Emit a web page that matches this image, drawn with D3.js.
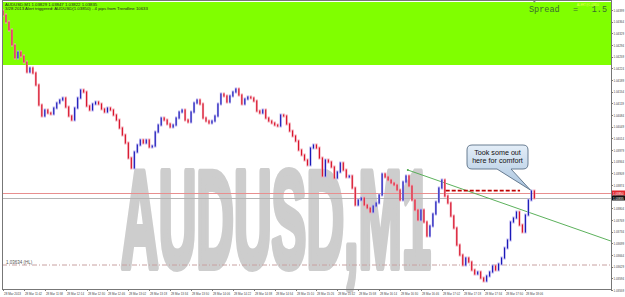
<!DOCTYPE html>
<html>
<head>
<meta charset="utf-8">
<script src="https://cdn.jsdelivr.net/npm/d3@7"></script>
<style>
  html, body { margin: 0; padding: 0; background: #fff; }
  svg { display: block; }
</style>
</head>
<body>
<div id="chart"></div>
<script>
"use strict";

// === DATA (AUDUSD M1, 28 Mar 2013, closes) ===
const closes = [
  1.04384, 1.04363, 1.04339, 1.04294, 1.04255, 1.04273, 1.04261, 1.04243, 1.04213, 1.04225,
  1.04210, 1.04174, 1.04114, 1.04081, 1.04099, 1.04090, 1.04087, 1.04105, 1.04120, 1.04129,
  1.04135, 1.04108, 1.04081, 1.04069, 1.04105, 1.04135, 1.04159, 1.04153, 1.04111, 1.04099,
  1.04117, 1.04123, 1.04117, 1.04102, 1.04093, 1.04105, 1.04099, 1.04084, 1.04069, 1.04045,
  1.04024, 1.04000, 1.03955, 1.03925, 1.03973, 1.03994, 1.04009, 1.04000, 1.04009, 1.03988,
  1.03991, 1.04033, 1.04054, 1.04075, 1.04069, 1.04057, 1.04048, 1.04054, 1.04075, 1.04093,
  1.04099, 1.04069, 1.04063, 1.04093, 1.04120, 1.04129, 1.04117, 1.04075, 1.04066, 1.04060,
  1.04066, 1.04081, 1.04117, 1.04147, 1.04141, 1.04123, 1.04141, 1.04153, 1.04162, 1.04144,
  1.04117, 1.04132, 1.04138, 1.04135, 1.04126, 1.04096, 1.04090, 1.04099, 1.04075, 1.04066,
  1.04060, 1.04054, 1.04051, 1.04084, 1.04081, 1.04057, 1.04036, 1.04021, 1.04006, 1.03979,
  1.03964, 1.03949, 1.03934, 1.03985, 1.03994, 1.03985, 1.03955, 1.03901, 1.03949, 1.03943,
  1.03928, 1.03895, 1.03913, 1.03940, 1.03919, 1.03898, 1.03901, 1.03865, 1.03814, 1.03829,
  1.03835, 1.03814, 1.03805, 1.03793, 1.03811, 1.03820, 1.03844, 1.03907, 1.03898, 1.03889,
  1.03880, 1.03874, 1.03859, 1.03829, 1.03883, 1.03901, 1.03871, 1.03829, 1.03799, 1.03769,
  1.03799, 1.03763, 1.03721, 1.03751, 1.03787, 1.03823, 1.03865, 1.03889, 1.03841, 1.03820,
  1.03781, 1.03745, 1.03694, 1.03664, 1.03634, 1.03655, 1.03643, 1.03619, 1.03607, 1.03613,
  1.03595, 1.03586, 1.03601, 1.03613, 1.03631, 1.03619, 1.03637, 1.03655, 1.03685, 1.03709,
  1.03763, 1.03775, 1.03793, 1.03754, 1.03733, 1.03784, 1.03829, 1.03856, 1.03835
];

const priceTicks = [
  1.04399, 1.04364, 1.04329, 1.04294, 1.04259, 1.04224, 1.04189, 1.04154, 1.04119, 1.04084,
  1.04049, 1.04014, 1.03979, 1.03944, 1.03909, 1.03874, 1.03839, 1.03804, 1.03769, 1.03734,
  1.03699, 1.03664, 1.03629, 1.03594, 1.03559
];

const timeLabels = [
  "28 Mar 2013", "28 Mar 11:42", "28 Mar 11:58", "28 Mar 12:14", "28 Mar 12:30", "28 Mar 12:46",
  "28 Mar 13:02", "28 Mar 13:18", "28 Mar 13:34", "28 Mar 13:50", "28 Mar 14:06", "28 Mar 14:22",
  "28 Mar 14:38", "28 Mar 14:54", "28 Mar 15:10", "28 Mar 15:26", "28 Mar 15:42", "28 Mar 15:58",
  "28 Mar 16:14", "28 Mar 16:30", "28 Mar 16:46", "28 Mar 17:02", "28 Mar 17:18", "28 Mar 17:34",
  "28 Mar 17:50", "28 Mar 18:06"
];
const barsPerLabel = 7;

const askPrice = 1.03850;
const bidPrice = 1.03835;
const lowLevel = 1.03634;
const stopLevel = { price: 1.03857, from: 148.3, to: 173.2 };
const trendLine = [{ bar: 135.6, price: 1.03919 }, { bar: 203.6, price: 1.03706 }];

const headerLines = [
  "AUDUSD,M1  1.03829 1.03847 1.03822 1.03835",
  "3/28 2013  Alert triggered: AUDUSD(1.03850) - 4 pips from Trendline 10633"
];
const calloutLines = ["Took some out", "here for comfort"];

// === SVG SETUP ===
const W = 625, H = 297;
const plot = { left: 2, right: 611, top: 0, bottom: 289 };

const svg = d3.select("#chart").append("svg")
  .attr("width", W)
  .attr("height", H)
  .style("font-family", "Liberation Sans, Arial, sans-serif");

const x = d3.scaleLinear().domain([0, 204]).range([3, 612]);
const y = d3.scaleLinear().domain([1.03562, 1.04429]).range([289, 0]);

svg.append("defs").append("clipPath").attr("id", "plotClip")
  .append("rect")
  .attr("x", plot.left).attr("y", plot.top)
  .attr("width", plot.right - plot.left).attr("height", plot.bottom - plot.top);

// squeezed text: horizontal scale so the label fits a given width
function squeezed(parent, str, px, py, size, width, fill) {
  const t = parent.append("text")
    .attr("font-size", size).attr("fill", fill)
    .text(str);
  const w = t.node().getComputedTextLength();
  const sx = Math.min(1, width / w);
  t.attr("transform", `translate(${px},${py}) scale(${sx},1)`);
  return t;
}

// green panel at the top
svg.append("rect")
  .attr("x", plot.left + 1).attr("y", 2)
  .attr("width", plot.right - plot.left - 1).attr("height", 63)
  .attr("fill", "#80ff00");

// === WATERMARK ===
const wm = svg.append("text")
  .attr("font-size", 138)
  .attr("font-weight", "bold")
  .attr("fill", "#cdcdcd")
  .attr("stroke", "#cdcdcd")
  .attr("stroke-width", 6)
  .attr("stroke-linejoin", "round")
  .attr("vector-effect", "non-scaling-stroke")
  .text("AUDUSD,M1");
const wmW = wm.node().getComputedTextLength();
wm.attr("transform", `translate(121,267) scale(${310 / wmW},1)`);

const g = svg.append("g").attr("clip-path", "url(#plotClip)");

// === LEVEL LINES ===
g.append("line")
  .attr("x1", plot.left).attr("x2", plot.right)
  .attr("y1", y(lowLevel)).attr("y2", y(lowLevel))
  .attr("stroke", "#c8a0a0").attr("stroke-width", 1)
  .attr("stroke-dasharray", "5,2,1,2");

g.append("line")
  .attr("x1", plot.left).attr("x2", plot.right)
  .attr("y1", Math.round(y(askPrice)) + 0.5).attr("y2", Math.round(y(askPrice)) + 0.5)
  .attr("stroke", "#e88f8f").attr("stroke-width", 1);

g.append("line")
  .attr("x1", plot.left).attr("x2", plot.right)
  .attr("y1", Math.round(y(bidPrice)) + 0.5).attr("y2", Math.round(y(bidPrice)) + 0.5)
  .attr("stroke", "#b4b4b4").attr("stroke-width", 1);

// trendline
g.append("line")
  .attr("x1", x(trendLine[0].bar)).attr("y1", y(trendLine[0].price))
  .attr("x2", x(trendLine[1].bar)).attr("y2", y(trendLine[1].price))
  .attr("stroke", "#4aa84a").attr("stroke-width", 0.9);
g.append("circle")
  .attr("cx", x(trendLine[0].bar)).attr("cy", y(trendLine[0].price))
  .attr("r", 1).attr("fill", "#4aa84a");

// === BARS ===
const bars = closes.map((c, i) => ({ i, open: i === 0 ? c + 0.00012 : closes[i - 1], close: c }));

g.selectAll("line.halo")
  .data(bars)
  .join("line")
  .attr("class", "halo")
  .attr("x1", d => x(d.i)).attr("x2", d => x(d.i))
  .attr("y1", d => y(Math.max(d.open, d.close)) - 1.5)
  .attr("y2", d => y(Math.min(d.open, d.close)) + 1.5)
  .attr("stroke", d => d.close < d.open ? "#f2a6b4" : "#b8b0ee")
  .attr("stroke-width", 2.2);

g.selectAll("line.bar")
  .data(bars)
  .join("line")
  .attr("class", "bar")
  .attr("x1", d => x(d.i)).attr("x2", d => x(d.i))
  .attr("y1", d => y(Math.max(d.open, d.close)) - 0.5)
  .attr("y2", d => y(Math.min(d.open, d.close)) + 0.5)
  .attr("stroke", d => d.close < d.open ? "#d8142a" : "#1a1ab8")
  .attr("stroke-width", 1.1);

// dashed stop line
g.append("line")
  .attr("x1", x(stopLevel.from)).attr("x2", x(stopLevel.to))
  .attr("y1", y(stopLevel.price)).attr("y2", y(stopLevel.price))
  .attr("stroke", "#c00000").attr("stroke-width", 1.8)
  .attr("stroke-dasharray", "4,2");

// low level label
svg.append("text")
  .attr("x", 6).attr("y", y(lowLevel) - 1.5)
  .attr("font-size", 4.5).attr("fill", "#555")
  .text(lowLevel.toFixed(5) + " (HL)");

// === HEADER ===
headerLines.forEach((t, i) => {
  svg.append("text")
    .attr("x", 5).attr("y", 5.5 + i * 4.5)
    .attr("font-size", 4.3).attr("fill", "#222")
    .text(t);
});

const mono = "Liberation Mono, DejaVu Sans Mono, monospace";
[["Spread", 529, "start"], ["=", 573, "start"], ["1.5", 607, "end"]].forEach(([t, px, anchor]) => {
  svg.append("text")
    .attr("x", px).attr("y", 12)
    .attr("text-anchor", anchor)
    .attr("font-family", mono)
    .attr("font-size", 8.5).attr("fill", "#3a6b30")
    .text(t);
});
squeezed(svg, "ALERT@1.03850", 577, 5.5, 4.3, 22, "#e8ff60");

// chart shift marker
svg.append("path")
  .attr("d", `M${x(178) - 2},0 L${x(178) + 2},0 L${x(178)},3 Z`)
  .attr("fill", "#888");

// === CALLOUT ===
const grad = svg.select("defs").append("linearGradient")
  .attr("id", "bubble").attr("x1", 0).attr("y1", 0).attr("x2", 0).attr("y2", 1);
grad.append("stop").attr("offset", "0%").attr("stop-color", "#e4eef8");
grad.append("stop").attr("offset", "100%").attr("stop-color", "#a9c4de");

const bx = 467, by = 145, bw = 61, bh = 24, r = 5;
const tipX = x(177) - 1, tipY = y(closes[177]) - 1;
svg.append("path")
  .attr("d", `M${bx + r},${by} H${bx + bw - r} Q${bx + bw},${by} ${bx + bw},${by + r}
    V${by + bh - r} Q${bx + bw},${by + bh} ${bx + bw - r},${by + bh}
    H${bx + 44} L${tipX},${tipY} L${bx + 30},${by + bh}
    H${bx + r} Q${bx},${by + bh} ${bx},${by + bh - r}
    V${by + r} Q${bx},${by} ${bx + r},${by} Z`)
  .attr("fill", "url(#bubble)")
  .attr("stroke", "#5a6f86").attr("stroke-width", 0.9);

calloutLines.forEach((t, i) => {
  svg.append("text")
    .attr("x", bx + bw / 2).attr("y", by + 10 + i * 8)
    .attr("text-anchor", "middle")
    .attr("font-size", 7.2).attr("fill", "#111")
    .text(t);
});

// === FRAME & AXES ===
svg.append("rect")
  .attr("x", plot.left + 0.5).attr("y", 0.5)
  .attr("width", plot.right - plot.left).attr("height", plot.bottom)
  .attr("fill", "none").attr("stroke", "#777").attr("stroke-width", 1);

const yAxis = svg.append("g");
priceTicks.forEach(p => {
  yAxis.append("line")
    .attr("x1", plot.right).attr("x2", plot.right + 2)
    .attr("y1", Math.round(y(p)) + 0.5).attr("y2", Math.round(y(p)) + 0.5)
    .attr("stroke", "#777");
  squeezed(yAxis, p.toFixed(5), plot.right + 2.5, y(p) + 1.5, 4.2, 10.5, "#444");
});

[[askPrice, "#e0242c"], [bidPrice, "#111"]].forEach(([p, c]) => {
  yAxis.append("rect")
    .attr("x", plot.right + 1).attr("y", y(p) - 2.5)
    .attr("width", 13).attr("height", 5)
    .attr("fill", c);
  squeezed(yAxis, p.toFixed(5), plot.right + 2, y(p) + 1.5, 4.2, 10.5, "#fff");
});

const xAxis = svg.append("g");
timeLabels.forEach((t, k) => {
  const px = Math.round(x(k * barsPerLabel)) + 0.5;
  xAxis.append("line")
    .attr("x1", px).attr("x2", px)
    .attr("y1", plot.bottom).attr("y2", plot.bottom + 2)
    .attr("stroke", "#777");
  squeezed(xAxis, t, px + 0.5, plot.bottom + 6, 4.2, 17, "#444");
});
</script>
</body>
</html>
